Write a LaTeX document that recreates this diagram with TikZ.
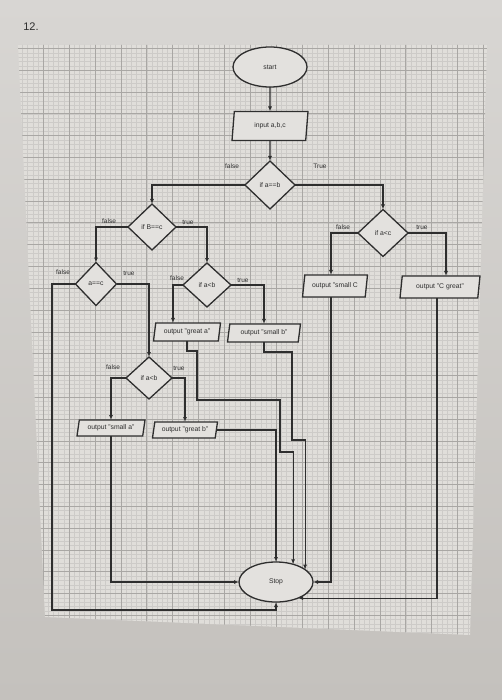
\documentclass[tikz,border=0pt]{standalone}
\usepackage{fontspec}
\setmainfont{Liberation Sans}
\usetikzlibrary{shapes.geometric,arrows.meta}
\definecolor{nodefill}{HTML}{E3E1DE}
\definecolor{paper}{HTML}{E0DEDA}
\definecolor{minorc}{HTML}{CDCBC8}
\definecolor{majorc}{HTML}{A9A7A4}
\definecolor{inkc}{HTML}{2E2E2E}
\definecolor{bgtop}{HTML}{D8D6D3}
\definecolor{bgbot}{HTML}{C4C1BD}
\begin{document}
\begin{tikzpicture}[x=1pt,y=-1pt,
  every node/.style={font=\fontsize{6.8}{8}\selectfont, text=inkc},
  shp/.style={draw=inkc, line width=1.3pt, fill=nodefill, inner sep=0pt, outer sep=0pt},
  term/.style={shp, ellipse, minimum width=74pt, minimum height=40pt},
  dec/.style={shp, diamond},
  io/.style={shp, trapezium, trapezium left angle=70, trapezium right angle=110, trapezium stretches body},
  lbl/.style={font=\fontsize{6.5}{7}\selectfont},
  arr/.style={draw=inkc, line width=1.1pt, -{Latex[length=5pt,width=4pt]}},
  minorl/.style={draw=minorc, line width=0.3pt},
  majorl/.style={draw=majorc, line width=0.6pt},
]
\useasboundingbox (0,0) rectangle (502,700);
\shade[top color=bgtop, bottom color=bgbot] (0,0) rectangle (502,700);
\begin{scope}
  \clip (18,45) -- (487,45) -- (470,635) -- (45,617) -- cycle;
  \fill[paper] (0,0) rectangle (502,700);
  \foreach \i in {0,...,95} \draw[minorl] ({17.2+\i*5.18},40) -- ++(0,610);
  \foreach \j in {0,...,140} \draw[minorl] (10,{39.68+\j*4.36}) -- ++(490,0);
  \foreach \i in {0,...,19} \draw[majorl] ({17.2+\i*25.9},40) -- ++(0,610);
  \foreach \j in {0,...,28} \draw[majorl] (10,{48.4+\j*21.8}) -- ++(490,0);
\end{scope}

\node[font=\fontsize{11}{13}\selectfont] (title) at (31,27) {12.};

% nodes
\node[term] (start) at (270,67) {start};
\node[io, minimum width=76pt, minimum height=29pt] (inp) at (270,126) {input a,b,c};
\node[dec, minimum width=50pt, minimum height=48pt] (d1) at (270,185) {if a==b};
\node[dec, minimum width=48pt, minimum height=46pt] (d2) at (152,227) {if B==c};
\node[dec, minimum width=50pt, minimum height=47pt] (d3) at (383,233) {if a<c};
\node[dec, minimum width=41pt, minimum height=43pt] (d4) at (96,284) {a==c};
\node[dec, minimum width=48pt, minimum height=44pt] (d5) at (207,285) {if a<b};
\node[dec, minimum width=46pt, minimum height=42pt] (d6) at (149,378) {if a<b};
\node[io, minimum width=67pt, minimum height=18pt] (oga) at (187,332) {output "great a"};
\node[io, minimum width=73pt, minimum height=18pt] (osb) at (264,333) {output "small b"};
\node[io, minimum width=68pt, minimum height=16pt] (osa) at (111,428) {output "small a"};
\node[io, minimum width=65pt, minimum height=16pt] (ogb) at (185,430) {output "great b"};
\node[io, minimum width=65pt, minimum height=22pt] (osc) at (335,286) {output "small C};
\node[io, minimum width=80pt, minimum height=22pt] (ocg) at (440,287) {output "C great"};
\node[term] (stop) at (276,582) {Stop};

% labels
\node[lbl] (l1) at (232,166) {false};
\node[lbl] (l2) at (320,166) {True};
\node[lbl] (l3) at (109,221) {false};
\node[lbl] (l4) at (188,222) {true};
\node[lbl] (l5) at (343,227) {false};
\node[lbl] (l6) at (422,227) {true};
\node[lbl] (l7) at (63,272) {false};
\node[lbl] (l8) at (129,273) {true};
\node[lbl] (l9) at (177,278) {false};
\node[lbl] (l10) at (243,280) {true};
\node[lbl] (l11) at (113,367) {false};
\node[lbl] (l12) at (179,368) {true};

% helper coordinates
\coordinate (c1) at (52,610);
\coordinate (c2) at (197,400);
\coordinate (c3) at (280,452);
\coordinate (c4) at (292,440);

% connectors
\draw[arr] (start.south) -- (inp.north);
\draw[arr] (inp.south) -- (d1.north);
\draw[arr] (d1.west) -| (d2.north);
\draw[arr] (d1.east) -| (d3.north);
\draw[arr] (d2.west) -| (d4.north);
\draw[arr] (d2.east) -| (d5.north);
\draw[arr] (d3.west) -| ([xshift=-4pt]osc.north);
\draw[arr] (d3.east) -| ([xshift=6pt]ocg.north);
\draw[arr] (d5.west) -| ([xshift=-14pt]oga.north);
\draw[arr] (d5.east) -| (osb.north);
\draw[arr] (d4.east) -| (d6.north);
\draw[arr] (d4.west) -| (c1) -| (stop.south);
\draw[arr] (d6.west) -| (osa.north);
\draw[arr] (d6.east) -| (ogb.north);
\draw[arr] (osa.south) |- (stop.west);
\draw[arr] (ogb.east) -| (stop.north);
\draw[arr] (oga.south) -- ++(0,10) -| (c2) -| (c3) -| (stop.46);
\draw[arr] (osb.south) -- ++(0,10) -| (c4) -| (stop.23);
\draw[arr] ([xshift=-4pt]osc.south) |- (stop.east);
\draw[arr] ([xshift=-3pt]ocg.south) |- (stop.-36);
\end{tikzpicture}
\end{document}
